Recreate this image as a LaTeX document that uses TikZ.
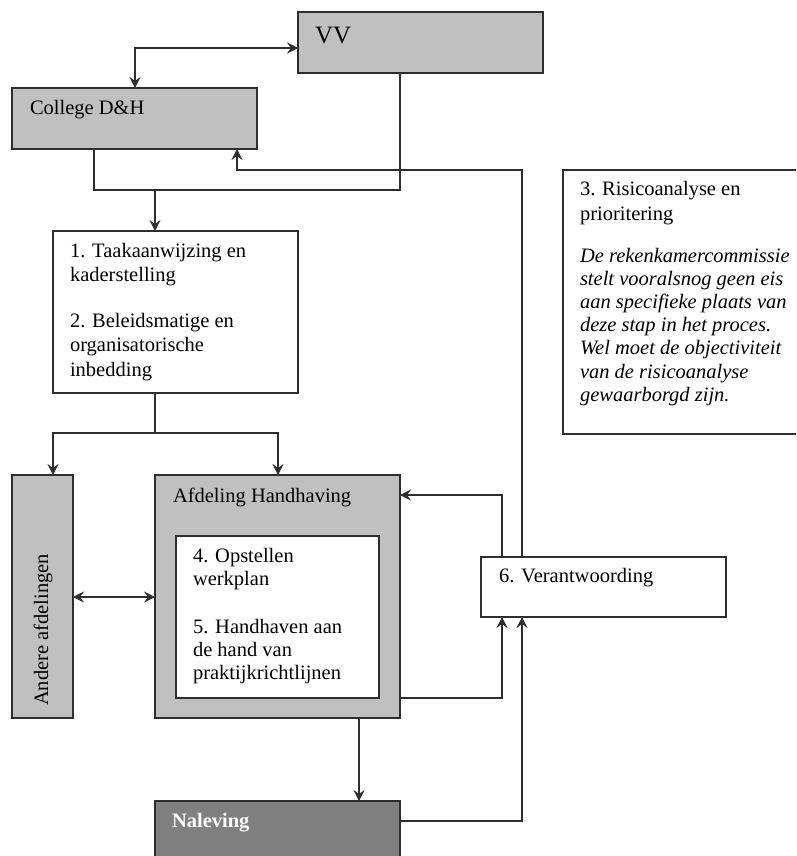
\documentclass[tikz,border=0pt]{standalone}
\usepackage{fontspec}
\setmainfont{Liberation Serif}
\usetikzlibrary{arrows.meta}
\definecolor{boxgray}{HTML}{C0C0C0}
\definecolor{darkfill}{HTML}{808080}
\definecolor{linec}{HTML}{2E2E2E}
\newcommand{\tblock}[2]{\vtop{\hsize=260pt\parindent=0pt\parskip=0pt\raggedright\baselineskip=#1 #2}}
\begin{document}
\begin{tikzpicture}[x=1pt,y=-1pt,
  box/.style={draw=linec,line width=1.5pt,anchor=north west,inner sep=0pt,outer sep=0pt},
  graybox/.style={box,fill=boxgray},
  whitebox/.style={box,fill=white},
  txt/.style={anchor=base west,inner sep=0pt,outer sep=0pt,font=\fontsize{20.5}{24}\selectfont,text=black},
  conn/.style={draw=linec,line width=1.4pt},
  arr/.style={conn,-{Stealth[length=11pt,width=11pt,inset=4pt]}},
  darr/.style={conn,{Stealth[length=11pt,width=11pt,inset=4pt]}-{Stealth[length=11pt,width=11pt,inset=4pt]}}
]
\useasboundingbox (0,0) rectangle (796,856);
\clip (0,0) rectangle (796,856);
\fill[white] (0,0) rectangle (796,856);

% boxes
\node[graybox,minimum width=245pt,minimum height=61pt] (vv) at (298,12) {};
\node[graybox,minimum width=245pt,minimum height=61pt] (college) at (12,88) {};
\node[whitebox,minimum width=245pt,minimum height=162pt] (box1) at (53,231) {};
\node[whitebox,minimum width=250pt,minimum height=264pt] (risk) at (563,170) {};
\node[graybox,minimum width=61pt,minimum height=243pt] (andere) at (12,475) {};
\node[graybox,minimum width=245pt,minimum height=243pt] (afd) at (155,475) {};
\node[whitebox,minimum width=203pt,minimum height=162pt] (inner) at (176,536) {};
\node[whitebox,minimum width=245pt,minimum height=60pt] (ver) at (481,557) {};
\node[box,fill=darkfill,minimum width=245pt,minimum height=80pt] (nal) at (155,801) {};

% texts
\node[txt,font=\fontsize{25}{30}\selectfont] (vvt) at (315,44) {VV};
\node[txt] (collt) at (30,115) {College D\&H};
\node[txt] (box1t) at (70,257) {\tblock{24.5pt}{1. Taakaanwijzing en\par kaderstelling\par\vskip 21pt 2. Beleidsmatige en\par organisatorische\par inbedding}};
\node[txt] (riskt) at (580,195) {\tblock{25pt}{3. Risicoanalyse en\par prioritering}};
\node[txt] (riski) at (580,262) {\tblock{23.2pt}{\itshape De rekenkamercommissie\par stelt vooralsnog geen eis\par aan specifieke plaats van\par deze stap in het proces.\par Wel moet de objectiviteit\par van de risicoanalyse\par gewaarborgd zijn.}};
\node[txt] (afdt) at (173,502) {Afdeling Handhaving};
\node[txt] (innert) at (193,562) {\tblock{23pt}{4. Opstellen\par werkplan\par\vskip 25pt 5. Handhaven aan\par de hand van\par praktijkrichtlijnen}};
\node[txt] (vert) at (499,582) {6. Verantwoording};
\node[txt,font=\bfseries\fontsize{20.5}{24}\selectfont,text=white] (nalt) at (172,827) {Naleving};
\node[anchor=center,inner sep=0pt,rotate=90,font=\fontsize{20.5}{24}\selectfont] (andt) at (43,630) {Andere afdelingen};

% bend coordinates
\coordinate (b1) at (135,48);
\coordinate (j1) at (94,190);
\coordinate (j2) at (400,190);
\coordinate (j3) at (155,190);
\coordinate (j4) at (522,170);
\coordinate (j5) at (237,170);
\coordinate (j6) at (155,433);
\coordinate (j7) at (53,433);
\coordinate (j8) at (278,433);
\coordinate (j9) at (0,597);
\coordinate (j10) at (502,495);
\coordinate (j11) at (502,698);
\coordinate (j12) at (359,0);
\coordinate (j13) at (522,821);

% connectors
\draw[darr] (vv.west |- b1) -| (college.north -| b1);
\draw[conn] (college.south -| j1) -- (j1) -- (j2) -- (vv.south -| j2);
\draw[arr] (j3) -- (box1.north -| j3);
\draw[arr] (ver.north -| j4) -- (j4) -- (j5) -- (college.south -| j5);
\draw[conn] (box1.south -| j6) -- (j6);
\draw[arr] (j6) -- (j7) -- (andere.north -| j7);
\draw[arr] (j6) -- (j8) -- (afd.north -| j8);
\draw[darr] (andere.east |- j9) -- (afd.west |- j9);
\draw[arr] (ver.north -| j10) -- (j10) -- (afd.east |- j10);
\draw[arr] (afd.east |- j11) -- (j11) -- (ver.south -| j11);
\draw[arr] (afd.south -| j12) -- (nal.north -| j12);
\draw[arr] (nal.east |- j13) -- (j13) -- (ver.south -| j13);
\end{tikzpicture}
\end{document}
